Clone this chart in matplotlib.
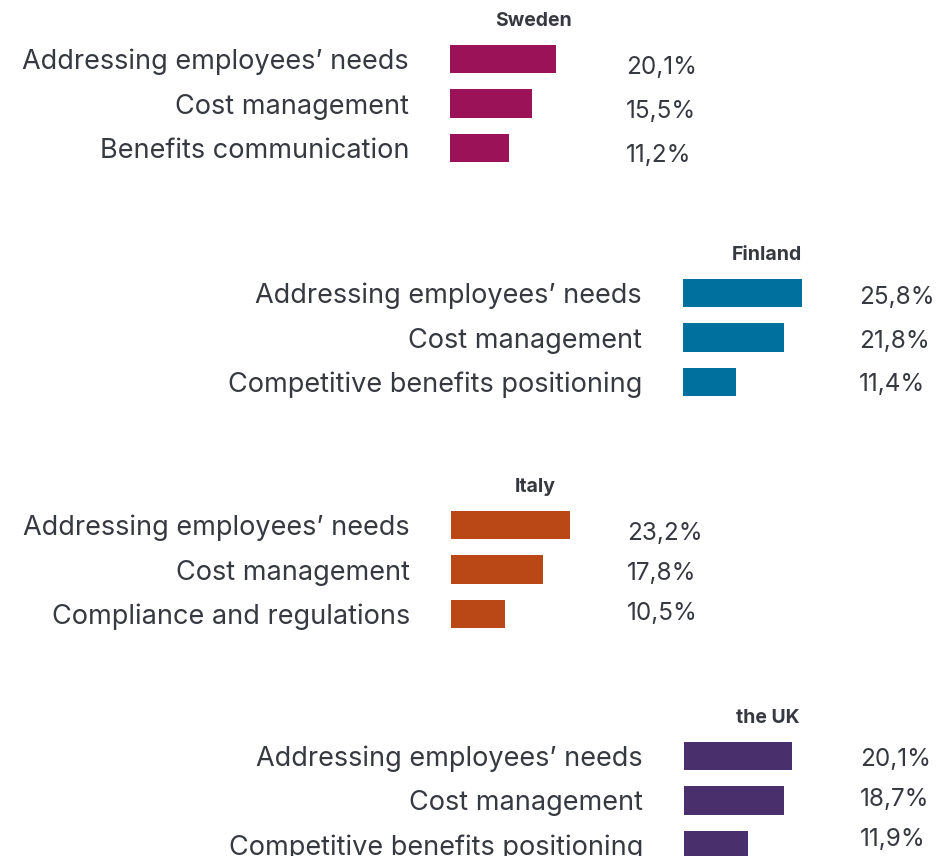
import matplotlib
matplotlib.use("Agg")
import matplotlib.pyplot as plt

# --- data -------------------------------------------------------------
countries = ["Sweden", "Finland", "Italy", "the UK"]

sweden_labels = ["Addressing employees’ needs", "Cost management", "Benefits communication"]
sweden_values = [20.1, 15.5, 11.2]

finland_labels = ["Addressing employees’ needs", "Cost management", "Competitive benefits positioning"]
finland_values = [25.8, 21.8, 11.4]

italy_labels = ["Addressing employees’ needs", "Cost management", "Compliance and regulations"]
italy_values = [23.2, 17.8, 10.5]

uk_labels = ["Addressing employees’ needs", "Cost management", "Competitive benefits positioning"]
uk_values = [20.1, 18.7, 11.9]

colors = ["#9B1259", "#00709F", "#BA4817", "#4A2F6D"]

# --- layout (figure pixels, measured from the top-left corner) --------
W, H = 936, 856
TEXT = "#363940"
FONT = "Inter"
plt.rcParams["font.family"] = [FONT, "DejaVu Sans"]

# left edge of bars, centre of first bar, x-range, value column rows
panels = [
    dict(left=450, first=59.0, xmax=33.4, vfirst=67.0, vstep=44.0),
    dict(left=683, first=293.0, xmax=38.1, vfirst=298.0, vstep=43.0),
    dict(left=451, first=525.0, xmax=34.2, vfirst=533.5, vstep=40.0),
    dict(left=684, first=756.0, xmax=32.9, vfirst=760.0, vstep=40.0),
]
ROW = 44.5          # bar pitch in px
AX_W = 176          # bar column width in px; values start right after
BAR_H = 0.65
LABEL_PAD_PX = 41

datasets = [
    (sweden_labels, sweden_values),
    (finland_labels, finland_values),
    (italy_labels, italy_values),
    (uk_labels, uk_values),
]

fig = plt.figure(figsize=(W / 100, H / 100), dpi=100)
fig.patch.set_facecolor("white")

for name, (labels, values), color, p in zip(countries, datasets, colors, panels):
    top = p["first"] - ROW / 2
    ax_h = ROW * len(values)
    ax = fig.add_axes([p["left"] / W, 1 - (top + ax_h) / H, AX_W / W, ax_h / H])
    ys = list(range(len(values)))
    ax.barh(ys, values, height=BAR_H, color=color)
    ax.set_xlim(0, p["xmax"])
    ax.set_ylim(len(values) - 0.5, -0.5)
    ax.set_yticks(ys)
    ax.set_yticklabels(labels, fontsize=19.5, color=TEXT)
    ax.tick_params(axis="y", length=0, pad=LABEL_PAD_PX * 0.72)
    ax.set_xticks([])
    for s in ax.spines.values():
        s.set_visible(False)
    ax.patch.set_alpha(0)

    # panel title
    ax.annotate(name, xy=(84 / AX_W, 1), xycoords="axes fraction",
                xytext=(0, 15.5), textcoords="offset pixels",
                ha="center", va="center", fontsize=14,
                fontweight="bold", color=TEXT)

    # value column
    for i, v in enumerate(values):
        txt = f"{v:.1f}%".replace(".", ",")
        fig.text((p["left"] + AX_W) / W, 1 - (p["vfirst"] + i * p["vstep"]) / H,
                 txt, ha="left", va="center", fontsize=17.5, color=TEXT)

fig.savefig("out.png", dpi=100, facecolor="white")
